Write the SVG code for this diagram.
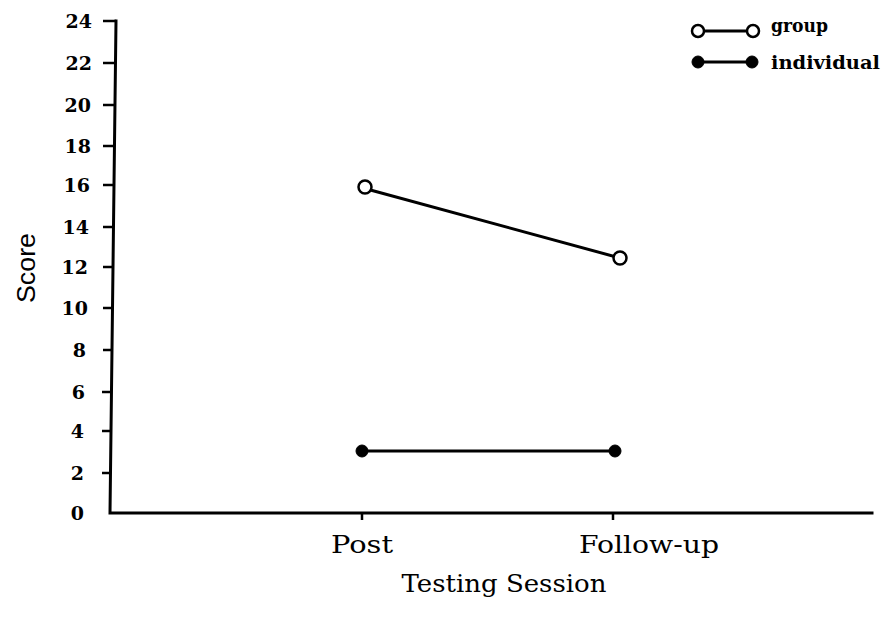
<svg xmlns="http://www.w3.org/2000/svg" width="886" height="623" viewBox="0 0 886 623">
<style>
.ax{stroke:#000;stroke-width:3;fill:none;stroke-linecap:square}
.tk{stroke:#000;stroke-width:2.5}
.num{font-family:"DejaVu Serif","Liberation Serif",serif;font-weight:bold;font-size:19px;text-anchor:end;fill:#000}
.lab{font-family:"DejaVu Serif","Liberation Serif",serif;font-size:24px;fill:#000}
.leg{font-family:"DejaVu Serif","Liberation Serif",serif;font-weight:bold;font-size:18px;fill:#000}
.ln{stroke:#000;stroke-width:3;fill:none}
.open{fill:#fff;stroke:#000;stroke-width:2.5}
.fill{fill:#000;stroke:#000;stroke-width:1}
</style>
<rect width="886" height="623" fill="#fff"/>
<g id="axes">
<path class="ax" d="M116 21 L110 513 L872 513"/>
<g class="tk">
<line x1="103" y1="21" x2="116" y2="21"/>
<line x1="103" y1="63" x2="116" y2="63"/>
<line x1="103" y1="105" x2="115" y2="105"/>
<line x1="103" y1="146" x2="115" y2="146"/>
<line x1="103" y1="185" x2="114" y2="185"/>
<line x1="103" y1="227" x2="114" y2="227"/>
<line x1="103" y1="267" x2="113" y2="267"/>
<line x1="103" y1="308" x2="113" y2="308"/>
<line x1="103" y1="350" x2="112" y2="350"/>
<line x1="102" y1="392" x2="112" y2="392"/>
<line x1="102" y1="431" x2="111" y2="431"/>
<line x1="102" y1="473" x2="111" y2="473"/>
<line x1="362" y1="513" x2="362" y2="520"/>
<line x1="613" y1="513" x2="613" y2="520"/>
</g>
<text class="num" x="92" y="28">24</text>
<text class="num" x="92" y="70">22</text>
<text class="num" x="91" y="112">20</text>
<text class="num" x="91" y="153">18</text>
<text class="num" x="90" y="192">16</text>
<text class="num" x="89" y="234">14</text>
<text class="num" x="88" y="274">12</text>
<text class="num" x="88" y="315">10</text>
<text class="num" x="86" y="357">8</text>
<text class="num" x="85" y="399">6</text>
<text class="num" x="84" y="438">4</text>
<text class="num" x="84" y="480">2</text>
<text class="num" x="84" y="520">0</text>
<text class="lab" x="362" y="553" text-anchor="middle" textLength="62" lengthAdjust="spacingAndGlyphs">Post</text>
<text class="lab" x="649" y="553" text-anchor="middle" textLength="140" lengthAdjust="spacingAndGlyphs">Follow-up</text>
<text class="lab" x="504" y="592" text-anchor="middle" textLength="205" lengthAdjust="spacingAndGlyphs">Testing Session</text>
<text x="0" y="0" transform="translate(35 268) rotate(-90)" text-anchor="middle" font-family="Liberation Sans,sans-serif" font-size="25" textLength="70" lengthAdjust="spacingAndGlyphs">Score</text>
</g>
<g id="connectors">
<line class="ln" x1="363" y1="188" x2="620" y2="258"/>
<line class="ln" x1="362" y1="451" x2="615" y2="451"/>
<line class="ln" x1="698" y1="31" x2="753" y2="31" stroke-width="2"/>
<line class="ln" x1="698" y1="62" x2="752" y2="62" stroke-width="2"/>
</g>
<g id="group-post"><circle class="open" cx="365" cy="187" r="6.5"/></g>
<g id="group-followup"><circle class="open" cx="620" cy="258" r="6.5"/></g>
<g id="individual-post"><circle class="fill" cx="362" cy="451" r="6"/></g>
<g id="individual-followup"><circle class="fill" cx="615" cy="451" r="6"/></g>
<g id="legend">
<circle class="open" cx="698" cy="31" r="6"/>
<circle class="open" cx="753" cy="31" r="6"/>
<text class="leg" x="771" y="32" textLength="57" lengthAdjust="spacingAndGlyphs">group</text>
<circle class="fill" cx="698" cy="62" r="6"/>
<circle class="fill" cx="752" cy="62" r="6"/>
<text class="leg" x="771" y="69" textLength="109" lengthAdjust="spacingAndGlyphs">individual</text>
</g>
</svg>
